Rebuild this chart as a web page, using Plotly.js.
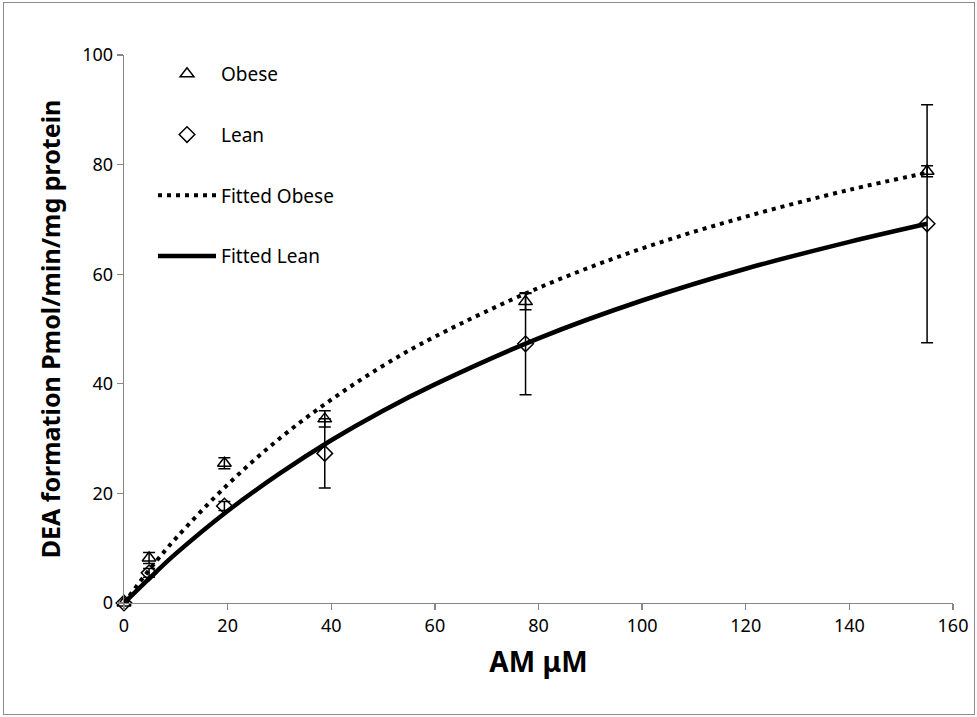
<!DOCTYPE html>
<html>
<head>
<meta charset="utf-8">
<script src="https://cdn.plot.ly/plotly-3.0.1.min.js"></script>
<style>
  html, body { margin: 0; padding: 0; background: #fff; }
  #wrap { position: relative; width: 977px; height: 717px; }
  #chart { position: absolute; left: 0; top: 0; width: 977px; height: 717px; }
  #frame { position: absolute; left: 3px; top: 2px; width: 970px; height: 711px;
           border: 1px solid #8c8c8c; pointer-events: none; }
</style>
</head>
<body>
<div id="wrap">
  <div id="chart"></div>
  <div id="frame"></div>
</div>
<script>
// AM concentration (µM) and measured DEA formation rates (pmol/min/mg protein)
const concentration = [0, 4.84, 19.375, 38.75, 77.5, 155];
const obeseRate     = [0, 8.2, 25.5, 33.6, 55.0, 78.8];
const obeseErr      = [0.4, 1.0, 1.0, 1.5, 1.5, 1.0];
const leanRate      = [0, 5.5, 17.7, 27.3, 47.3, 69.2];
const leanErr       = [0.3, 0.8, 0.8, 6.3, 9.3, 21.7];

// Fitted saturation curves
const fitConc  = [0, 5, 10, 20, 30, 40, 50, 60, 80, 100, 120, 140, 155];
const fitObese = [0, 6.2, 11.8, 21.6, 30.0, 37.1, 43.3, 48.6, 57.5, 64.7, 70.5, 75.4, 78.5];
const fitLean  = [0, 4.6, 9.0, 16.8, 23.6, 29.7, 35.1, 39.9, 48.3, 55.2, 61.0, 65.9, 69.2];

const FONT = 'Noto Sans, Open Sans, sans-serif';

const traces = [
  {
    name: 'Obese', x: concentration, y: obeseRate, type: 'scatter', mode: 'markers',
    legendgroup: 'a', cliponaxis: false,
    marker: { symbol: 'triangle-up-open', size: 12, color: '#000', line: { width: 1.5, color: '#000' } },
    error_y: { type: 'data', array: obeseErr, visible: true, color: '#000', thickness: 1.5, width: 6 }
  },
  {
    name: 'Lean', x: concentration, y: leanRate, type: 'scatter', mode: 'markers',
    legendgroup: 'b', cliponaxis: false,
    marker: { symbol: 'diamond-open', size: 12, color: '#000', line: { width: 1.5, color: '#000' } },
    error_y: { type: 'data', array: leanErr, visible: true, color: '#000', thickness: 1.5, width: 6 }
  },
  {
    name: 'Fitted Obese', x: fitConc, y: fitObese, type: 'scatter', mode: 'lines',
    legendgroup: 'c', cliponaxis: false,
    line: { color: '#000', width: 4, dash: '4px,5px', shape: 'spline' }
  },
  {
    name: 'Fitted Lean', x: fitConc, y: fitLean, type: 'scatter', mode: 'lines',
    legendgroup: 'd', cliponaxis: false,
    line: { color: '#000', width: 4.5, shape: 'spline' }
  }
];

const axisCommon = {
  showline: true, linecolor: '#868686', linewidth: 1.3,
  ticks: 'outside', ticklen: 6, tickcolor: '#868686', tickwidth: 1.3,
  showgrid: false, zeroline: false,
  tickfont: { family: FONT, size: 18, color: '#000' }
};

const layout = {
  width: 977, height: 717,
  margin: { l: 124, r: 24, t: 55, b: 114 },
  paper_bgcolor: '#fff', plot_bgcolor: '#fff',
  font: { family: FONT, color: '#000' },
  showlegend: true,
  legend: {
    x: 0.035, y: 1.0, xanchor: 'left', yanchor: 'top',
    bgcolor: 'rgba(0,0,0,0)', traceorder: 'grouped', tracegroupgap: 33,
    itemwidth: 58, font: { family: FONT, size: 19, color: '#000' }
  },
  xaxis: Object.assign({}, axisCommon, {
    range: [0, 160], dtick: 20, tick0: 0,
    title: { text: 'AM μM', standoff: 16, font: { family: FONT, size: 28, color: '#000', weight: 'bold' } }
  }),
  yaxis: Object.assign({}, axisCommon, {
    range: [0, 100], dtick: 20, tick0: 0,
    title: { text: 'DEA formation Pmol/min/mg protein', standoff: 14,
             font: { family: FONT, size: 25, color: '#000', weight: 'bold' } }
  })
};

Plotly.newPlot('chart', traces, layout, { displayModeBar: false, staticPlot: true });
</script>
</body>
</html>
